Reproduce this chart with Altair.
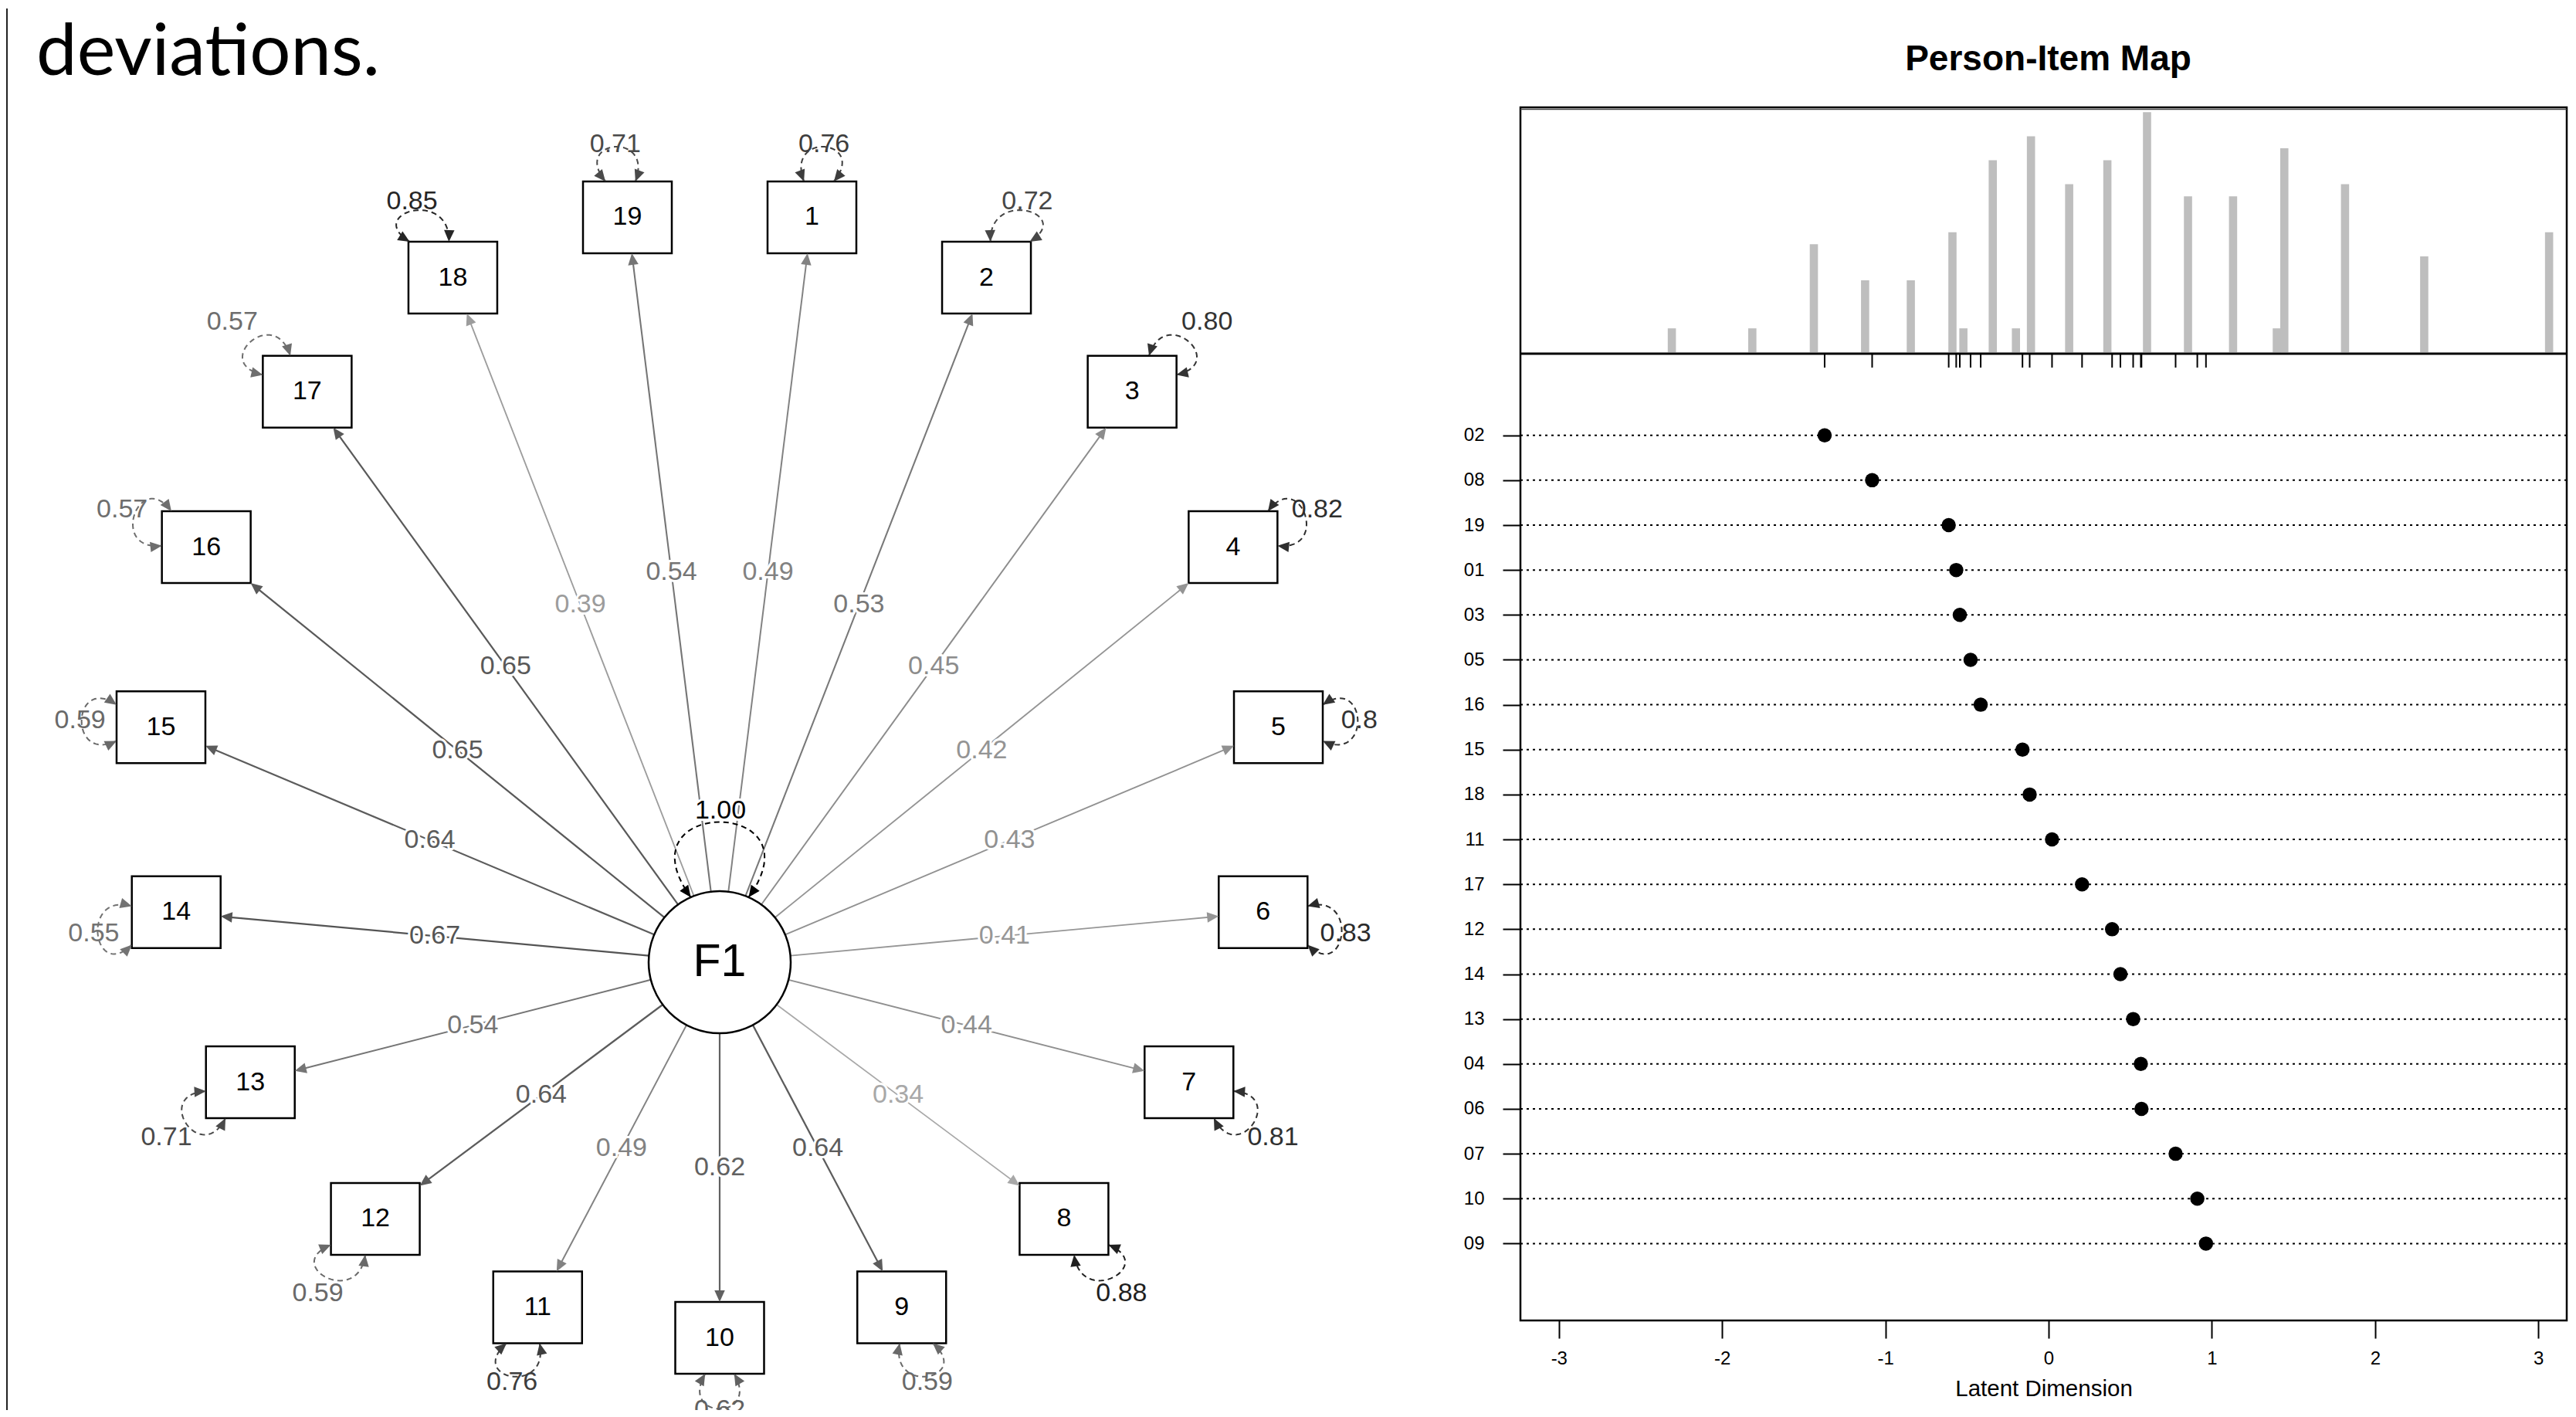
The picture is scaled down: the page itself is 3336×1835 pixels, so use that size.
import math
import altair as alt
import pandas as pd

# ---------------- data ----------------
slide_title = "deviations."
factor_name = "F1"
factor_var_label = "1.00"
item_names = [str(i) for i in range(1, 20)]
loadings = [0.49, 0.53, 0.45, 0.42, 0.43, 0.41, 0.44, 0.34, 0.64, 0.62,
            0.49, 0.64, 0.54, 0.67, 0.64, 0.65, 0.65, 0.39, 0.54]
residual_labels = ["0.76", "0.72", "0.80", "0.82", "0.8", "0.83", "0.81", "0.88", "0.59", "0.62",
                   "0.76", "0.59", "0.71", "0.55", "0.59", "0.57", "0.57", "0.85", "0.71"]

pim_title = "Person-Item Map"
pim_items = ["02", "08", "19", "01", "03", "05", "16", "15", "18", "11",
             "17", "12", "14", "13", "04", "06", "07", "10", "09"]
pim_locations = [-1.372, -1.081, -0.612, -0.566, -0.544, -0.478, -0.416, -0.160, -0.116, 0.021,
                 0.205, 0.389, 0.440, 0.518, 0.565, 0.569, 0.778, 0.911, 0.964]
person_x = [-2.308, -1.815, -1.438, -1.124, -0.844, -0.589, -0.522, -0.342, -0.200, -0.108,
            0.126, 0.360, 0.603, 0.854, 1.130, 1.398, 1.444, 1.816, 2.301, 3.066]
person_n = [2, 2, 9, 6, 6, 10, 2, 16, 2, 18, 14, 16, 20, 13, 13, 2, 17, 14, 8, 10]
x_ticks = [-3, -2, -1, 0, 1, 2, 3]
x_title = "Latent Dimension"

FONT = "Liberation Sans"

# ---------------- layout of the path diagram (page pixels) ----------------
L_X0 = 8
L_W = 1886
TOP = 137
L_BOTTOM = 1824
RING_C = (932.0, 1000.0)
RING_R = (726.0, 730.5)
F1_C = (932.0, 1244.0)
F1_R = 92.0
HW, HH = 57.5, 46.5
N = len(item_names)
STEP = 360.0 / N
ARROW = "M0,0L-0.45,1L0.45,1Z"


def gray(w):
    g = max(0, min(255, int(round(255 * (1 - w)))))
    return "#%02x%02x%02x" % (g, g, g)


def box_hit(ux, uy):
    tx = HW / abs(ux) if abs(ux) > 1e-9 else 1e9
    ty = HH / abs(uy) if abs(uy) > 1e-9 else 1e9
    return min(tx, ty)


def heading(ux, uy):
    return (math.degrees(math.atan2(ux, -uy)) + 360.0) % 360.0


def bez(p0, p1, p2, p3, t):
    a = (1 - t) ** 3
    b = 3 * (1 - t) ** 2 * t
    c = 3 * (1 - t) * t ** 2
    d = t ** 3
    return (a * p0[0] + b * p1[0] + c * p2[0] + d * p3[0],
            a * p0[1] + b * p1[1] + c * p2[1] + d * p3[1])


boxes, edge_pts, heads, edge_lab, loop_pts, res_lab = [], [], [], [], [], []
for k in range(N):
    th = math.radians((10 - (k + 1)) * STEP)
    bx = RING_C[0] + RING_R[0] * math.sin(th)
    by = RING_C[1] + RING_R[1] * math.cos(th)
    boxes.append(dict(x1=bx - HW, x2=bx + HW, y1=by - HH, y2=by + HH, xc=bx, yc=by, lab=item_names[k]))
    dx, dy = bx - F1_C[0], by - F1_C[1]
    L = math.hypot(dx, dy)
    ux, uy = dx / L, dy / L
    sx, sy = F1_C[0] + ux * F1_R, F1_C[1] + uy * F1_R
    de = box_hit(ux, uy)
    ex, ey = bx - ux * de, by - uy * de
    col = gray(loadings[k])
    sw = 1.2 + 1.6 * loadings[k]
    edge_pts.append(dict(e=k, o=0, x=sx, y=sy, c=col, w=sw))
    edge_pts.append(dict(e=k, o=1, x=ex - ux * 10, y=ey - uy * 10, c=col, w=sw))
    heads.append(dict(x=ex, y=ey, a=heading(ux, uy), c=col))
    edge_lab.append(dict(x=(sx + ex) / 2, y=(sy + ey) / 2, t="%.2f" % loadings[k], c=col))

    # residual self loop
    rv = float(residual_labels[k])
    rc = gray(rv)
    phi = math.atan2(by - RING_C[1], bx - RING_C[0])
    spread, splay, LL = math.radians(22), math.radians(30), 70.0
    ua = (math.cos(phi - spread), math.sin(phi - spread))
    ub = (math.cos(phi + spread), math.sin(phi + spread))
    p0 = (bx + ua[0] * box_hit(*ua), by + ua[1] * box_hit(*ua))
    p3 = (bx + ub[0] * box_hit(*ub), by + ub[1] * box_hit(*ub))
    p1 = (p0[0] + LL * math.cos(phi - splay), p0[1] + LL * math.sin(phi - splay))
    p2 = (p3[0] + LL * math.cos(phi + splay), p3[1] + LL * math.sin(phi + splay))
    for i in range(41):
        px, py = bez(p0, p1, p2, p3, i / 40)
        loop_pts.append(dict(l=k, o=i, x=px, y=py, c=rc))
    for (tip, ctl) in ((p0, p1), (p3, p2)):
        vx, vy = tip[0] - ctl[0], tip[1] - ctl[1]
        vl = math.hypot(vx, vy)
        heads.append(dict(x=tip[0], y=tip[1], a=heading(vx / vl, vy / vl), c=rc))
    uo = (math.cos(phi), math.sin(phi))
    d0 = box_hit(*uo) + 47 + 17 * math.sin(2 * phi) ** 2
    res_lab.append(dict(x=bx + uo[0] * d0, y=by + uo[1] * d0, t=residual_labels[k], c=rc))

# factor variance loop
q0 = (F1_C[0] - F1_R * math.sin(math.radians(24)), F1_C[1] - F1_R * math.cos(math.radians(24)))
q3 = (F1_C[0] + F1_R * math.sin(math.radians(24)), q0[1])
q1 = (800.0, 1030.0)
q2 = (1064.0, 1030.0)
f1_loop = []
for i in range(41):
    px, py = bez(q0, q1, q2, q3, i / 40)
    f1_loop.append(dict(l=0, o=i, x=px, y=py))
for (tip, ctl) in ((q0, q1), (q3, q2)):
    vx, vy = tip[0] - ctl[0], tip[1] - ctl[1]
    vl = math.hypot(vx, vy)
    heads.append(dict(x=tip[0], y=tip[1], a=heading(vx / vl, vy / vl), c="#000000"))
f1_lab = [dict(x=933.0, y=1048.0, t=factor_var_label)]

XS = alt.Scale(domain=[L_X0, L_X0 + L_W], nice=False, zero=False)
YS = alt.Scale(domain=[TOP, L_BOTTOM], nice=False, zero=False, reverse=True)


def LX(f):
    return alt.X(f, type="quantitative", scale=XS, axis=None)


def LY(f):
    return alt.Y(f, type="quantitative", scale=YS, axis=None)


df_boxes = pd.DataFrame(boxes)
df_edges = pd.DataFrame(edge_pts)
df_heads = pd.DataFrame(heads)
df_elab = pd.DataFrame(edge_lab)
df_loops = pd.DataFrame(loop_pts)
df_rlab = pd.DataFrame(res_lab)
df_rlab_top = df_rlab[df_rlab.y < 1700]
df_rlab_bot = df_rlab[df_rlab.y >= 1700]
df_f1loop = pd.DataFrame(f1_loop)
df_f1lab = pd.DataFrame(f1_lab)
df_f1 = pd.DataFrame([dict(x=F1_C[0], y=F1_C[1], t=factor_name)])
df_line = pd.DataFrame([dict(x=9, y=9, y2=L_BOTTOM)])
df_title = pd.DataFrame([dict(x=47, y=95, t=slide_title)])

l_line = alt.Chart(df_line).mark_rule(color="#222222", strokeWidth=2).encode(
    x=LX("x"), y=LY("y"), y2="y2")
l_title = alt.Chart(df_title).mark_text(font="Lato", fontSize=94, align="left", baseline="alphabetic",
                                        color="black").encode(x=LX("x"), y=LY("y"), text="t:N")
l_edges = alt.Chart(df_edges).mark_line().encode(
    x=LX("x"), y=LY("y"), detail="e:N", order="o:Q",
    color=alt.Color("c:N", scale=None), strokeWidth=alt.StrokeWidth("w:Q", scale=None))
l_loops = alt.Chart(df_loops).mark_line(strokeDash=[7, 5], strokeWidth=2).encode(
    x=LX("x"), y=LY("y"), detail="l:N", order="o:Q", color=alt.Color("c:N", scale=None))
l_f1loop = alt.Chart(df_f1loop).mark_line(strokeDash=[7, 5], strokeWidth=2, color="black").encode(
    x=LX("x"), y=LY("y"), order="o:Q")
l_boxes = alt.Chart(df_boxes).mark_rect(fill="white", stroke="black", strokeWidth=2.5).encode(
    x=LX("x1"), x2="x2", y=LY("y1"), y2="y2")
l_circle = alt.Chart(df_f1).mark_point(shape="circle", filled=True, fill="white", stroke="black",
                                       strokeWidth=2.5, size=(2 * F1_R) ** 2, opacity=1).encode(
    x=LX("x"), y=LY("y"))
l_heads = alt.Chart(df_heads).mark_point(shape=ARROW, filled=True, size=900, opacity=1, strokeWidth=0).encode(
    x=LX("x"), y=LY("y"), angle=alt.Angle("a:Q", scale=None), color=alt.Color("c:N", scale=None))
l_boxtext = alt.Chart(df_boxes).mark_text(font=FONT, fontSize=34, color="black", baseline="middle").encode(
    x=LX("xc"), y=LY("yc"), text="lab:N")
l_f1text = alt.Chart(df_f1).mark_text(font=FONT, fontSize=59, color="black", baseline="middle").encode(
    x=LX("x"), y=LY("y"), text="t:N")
l_elab_halo = alt.Chart(df_elab).mark_text(font=FONT, fontSize=34, baseline="middle", color="white",
                                           stroke="white", strokeWidth=6, strokeJoin="round").encode(
    x=LX("x"), y=LY("y"), text="t:N")
l_elab = alt.Chart(df_elab).mark_text(font=FONT, fontSize=34, baseline="middle").encode(
    x=LX("x"), y=LY("y"), text="t:N", color=alt.Color("c:N", scale=None))
l_f1lab_halo = alt.Chart(df_f1lab).mark_text(font=FONT, fontSize=34, baseline="middle", color="white",
                                             stroke="white", strokeWidth=6, strokeJoin="round").encode(
    x=LX("x"), y=LY("y"), text="t:N")
l_f1lab = alt.Chart(df_f1lab).mark_text(font=FONT, fontSize=34, baseline="middle", color="black").encode(
    x=LX("x"), y=LY("y"), text="t:N")
l_rlab_top = alt.Chart(df_rlab_top).mark_text(font=FONT, fontSize=34, baseline="middle").encode(
    x=LX("x"), y=LY("y"), text="t:N", color=alt.Color("c:N", scale=None))
l_rlab_bot = alt.Chart(df_rlab_bot).mark_text(font=FONT, fontSize=34, baseline="middle", clip=True).encode(
    x=LX("x"), y=LY("y"), text="t:N", color=alt.Color("c:N", scale=None))

left = alt.layer(
    l_line, l_title, l_edges, l_loops, l_f1loop, l_boxes, l_circle, l_heads,
    l_boxtext, l_f1text, l_elab_halo, l_elab, l_f1lab_halo, l_f1lab, l_rlab_top, l_rlab_bot
).properties(width=L_W, height=L_BOTTOM - TOP,
             view=alt.ViewBackground(fill="white", stroke=None))

# ---------------- Person-Item Map ----------------
R_X0 = 1967
W2 = 1355
H2 = 1571
X_ZERO = 2651.0
PPU = 211.4
x_dom = [(R_X0 - X_ZERO) / PPU, (R_X0 + W2 - X_ZERO) / PPU]
HIST_BASE = 454.3
PX_COUNT = 15.55
h_dom = [(HIST_BASE - (TOP + H2)) / PX_COUNT, (HIST_BASE - TOP) / PX_COUNT]
ROW1 = 561.7
ROW_STEP = 58.15
r_dom = [1 - (ROW1 - TOP) / ROW_STEP, 1 + (TOP + H2 - ROW1) / ROW_STEP]
SEP = 456 - TOP

xscale = alt.Scale(domain=x_dom, nice=False, zero=False)
xaxis = alt.Axis(values=x_ticks, labelExpr="'' + datum.value", title=x_title, grid=False, domain=False,
                 tickSize=23, tickWidth=2, tickColor="black", labelFontSize=24, labelColor="black",
                 labelFont=FONT, labelPadding=14, titleFont=FONT, titleFontSize=29.5,
                 titleFontWeight="normal", titleColor="black", titlePadding=13)


def RX(f):
    return alt.X(f, type="quantitative", scale=xscale, axis=xaxis)


df_hist = pd.DataFrame(dict(px=person_x, n=person_n))
df_items = pd.DataFrame(dict(item=pim_items, loc=pim_locations, row=list(range(1, len(pim_items) + 1))))
df_one = pd.DataFrame([dict(t=pim_title)])

label_js = "[" + ",".join("'%s'" % s for s in pim_items) + "][datum.value - 1]"
yaxis = alt.Axis(values=list(range(1, len(pim_items) + 1)), labelExpr=label_js, orient="left",
                 title=None, grid=False, domain=False, tickSize=23, tickWidth=2, tickColor="black",
                 labelFontSize=24, labelColor="black", labelFont=FONT, labelPadding=24)

r_hist = alt.Chart(df_hist).mark_rule(color="#bebebe", strokeWidth=10.6).encode(
    x=RX("px"), y=alt.Y("n:Q", scale=alt.Scale(domain=h_dom, nice=False, zero=False), axis=None),
    y2=alt.datum(0))
r_sep = alt.Chart(df_one).mark_rule(color="black", strokeWidth=3).encode(
    x=alt.value(0), x2=alt.value(W2), y=alt.value(SEP))
r_top2 = alt.Chart(df_one).mark_rule(color="#444444", strokeWidth=1.5).encode(
    x=alt.value(0), x2=alt.value(W2), y=alt.value(2.5))
r_rug = alt.Chart(df_items).mark_rule(color="black", strokeWidth=2).encode(
    x=RX("loc"), y=alt.value(SEP), y2=alt.value(SEP + 18))
r_rows = alt.Chart(df_items).mark_rule(color="black", strokeWidth=2, strokeDash=[3, 5]).encode(
    x=alt.value(0), x2=alt.value(W2),
    y=alt.Y("row:Q", scale=alt.Scale(domain=r_dom, nice=False, zero=False, reverse=True), axis=None))
r_pts = alt.Chart(df_items).mark_point(shape="circle", filled=True, color="black", size=342, opacity=1).encode(
    x=RX("loc"),
    y=alt.Y("row:Q", scale=alt.Scale(domain=r_dom, nice=False, zero=False, reverse=True), axis=yaxis))
r_title = alt.Chart(df_one).mark_text(font=FONT, fontSize=46, fontWeight="bold", color="black",
                                      align="center", baseline="alphabetic").encode(
    x=alt.value(2650.5 - R_X0), y=alt.value(88.6 - TOP), text="t:N")
r_guard = alt.Chart(df_one).mark_rule(color="white", strokeWidth=2).encode(
    x=alt.value(0), x2=alt.value(W2), y=alt.value(9 - TOP))

right = alt.layer(
    r_guard, r_hist, r_sep, r_top2, r_rug, r_rows, r_pts, r_title
).resolve_scale(y="independent").properties(
    width=W2, height=H2, view=alt.ViewBackground(fill="white", stroke="black", strokeWidth=2.5))

chart = alt.hconcat(left, right, spacing=0, padding=0).configure_view(stroke=None).configure(font=FONT)

chart.save("out.html", embed_options={"renderer": "svg", "actions": False})
